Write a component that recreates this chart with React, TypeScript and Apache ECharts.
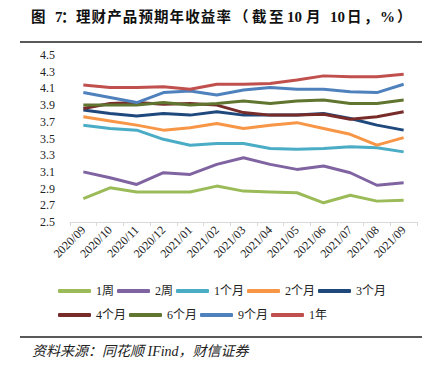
import React, { useEffect, useRef } from "react";
import * as echarts from "echarts";

const categories = [
  "2020/09", "2020/10", "2020/11", "2020/12", "2021/01", "2021/02", "2021/03",
  "2021/04", "2021/05", "2021/06", "2021/07", "2021/08", "2021/09",
];

const yTicks = [2.5, 2.7, 2.9, 3.1, 3.3, 3.5, 3.7, 3.9, 4.1, 4.3, 4.5];

const week1 = [2.78, 2.91, 2.86, 2.86, 2.86, 2.93, 2.87, 2.86, 2.85, 2.73, 2.82, 2.75, 2.76];
const week2 = [3.10, 3.03, 2.95, 3.09, 3.07, 3.19, 3.27, 3.19, 3.13, 3.17, 3.09, 2.94, 2.97];
const month1 = [3.66, 3.62, 3.60, 3.49, 3.42, 3.44, 3.44, 3.38, 3.37, 3.38, 3.40, 3.39, 3.34];
const month2 = [3.76, 3.71, 3.66, 3.60, 3.63, 3.68, 3.62, 3.66, 3.69, 3.62, 3.55, 3.42, 3.51];
const month3 = [3.84, 3.80, 3.77, 3.80, 3.78, 3.82, 3.78, 3.78, 3.78, 3.80, 3.74, 3.66, 3.60];
const month4 = [3.86, 3.92, 3.93, 3.91, 3.92, 3.90, 3.81, 3.78, 3.78, 3.79, 3.73, 3.76, 3.82];
const month6 = [3.90, 3.90, 3.90, 3.93, 3.90, 3.92, 3.95, 3.92, 3.95, 3.96, 3.92, 3.92, 3.96];
const month9 = [4.05, 3.99, 3.93, 4.05, 4.07, 4.02, 4.08, 4.11, 4.09, 4.09, 4.06, 4.05, 4.15];
const year1 = [4.14, 4.11, 4.11, 4.12, 4.09, 4.15, 4.15, 4.16, 4.20, 4.25, 4.24, 4.24, 4.27];

const seriesNames = ["1周", "2周", "1个月", "2个月", "3个月", "4个月", "6个月", "9个月", "1年"];
const seriesData = [week1, week2, month1, month2, month3, month4, month6, month9, year1];
const seriesColors = [
  "#9BBB59", "#8064A2", "#4BACC6", "#F79646", "#1F497D",
  "#772C2A", "#5F7530", "#4F81BD", "#C0504D",
];

// Title: "图 7：理财产品预期年收益率（截至 10 月 10 日，%）", drawn piece by piece
const titleHead = ["图", "7", "："];
const titleHeadX = [31, 55, 61];
const titleBody = "理财产品预期年收益率";
const titleTail = ["（", "截", "至", "10", "月", "10", "日", "，", "%", "）"];
const titleTailX = [234, 252, 269, 287, 306, 330, 347, 364, 380, 397];
const sourceText = "资料来源：同花顺 IFind，财信证券";

const FONT = "'Liberation Serif', 'Noto Sans CJK SC', serif";

export default function App() {
  const ref = useRef<HTMLDivElement>(null);
  useEffect(() => {
    if (!ref.current) return;
    const chart = echarts.init(ref.current, null, { renderer: "svg" });
    const legendCommon = {
      orient: "horizontal",
      left: 58,
      padding: 0,
      itemGap: 3,
      itemWidth: 33,
      itemHeight: 4,
      icon: "roundRect",
      textStyle: { fontFamily: FONT, fontSize: 12, color: "#222", width: 30, overflow: "none" },
    };
    const mkTitle = (t: string, x: number) => ({
      type: "text",
      x,
      y: 17,
      style: {
        text: t,
        font: `bold ${/^[0-9%]+$/.test(t) ? 15 : 14.5}px ${FONT}`,
        fill: "#111",
        verticalAlign: "middle",
      },
    });
    const titleGraphics = [
      ...titleHead.map((t, i) => mkTitle(t, titleHeadX[i])),
      ...titleBody.split("").map((t, i) => mkTitle(t, 76 + i * 15.6)),
      ...titleTail.map((t, i) => mkTitle(t, titleTailX[i])),
    ];
    chart.setOption({
      animation: false,
      textStyle: { fontFamily: FONT },
      grid: { left: 70, right: 23, top: 55, bottom: 153 },
      legend: [
        { ...legendCommon, top: 285, data: seriesNames.slice(0, 5) },
        { ...legendCommon, top: 309, data: seriesNames.slice(5) },
      ],
      xAxis: {
        type: "category",
        data: categories,
        boundaryGap: true,
        axisLine: { lineStyle: { color: "#d9d9d9", width: 1 } },
        axisTick: { show: true, length: 4, lineStyle: { color: "#d9d9d9" } },
        axisLabel: { rotate: 45, fontSize: 12, color: "#222", fontFamily: FONT, margin: 6 },
      },
      yAxis: {
        type: "value",
        min: 2.5,
        max: 4.5,
        axisLine: { show: false },
        axisTick: { show: false },
        splitLine: { show: false },
        axisLabel: {
          customValues: yTicks,
          formatter: (v: number) => v.toFixed(1),
          fontSize: 12,
          color: "#222",
          fontFamily: FONT,
          margin: 15,
        },
      },
      series: seriesNames.map((name, i) => ({
        name,
        type: "line",
        data: seriesData[i],
        symbol: "none",
        lineStyle: { width: 3, color: seriesColors[i] },
        itemStyle: { color: seriesColors[i] },
      })),
      graphic: [
        ...titleGraphics,
        {
          type: "line",
          shape: { x1: 20, y1: 42, x2: 422, y2: 42 },
          style: { stroke: "#222", lineWidth: 1.5 },
        },
        {
          type: "line",
          shape: { x1: 20, y1: 337, x2: 422, y2: 337 },
          style: { stroke: "#222", lineWidth: 1.5 },
        },
        {
          type: "text",
          x: 32,
          y: 351,
          style: {
            text: sourceText,
            font: `italic 14px ${FONT}`,
            fill: "#222",
            verticalAlign: "middle",
          },
        },
      ],
    });
    return () => chart.dispose();
  }, []);
  return (
    <div
      ref={ref}
      style={{ position: "absolute", left: 0, top: 0, width: 440, height: 375 }}
    />
  );
}
